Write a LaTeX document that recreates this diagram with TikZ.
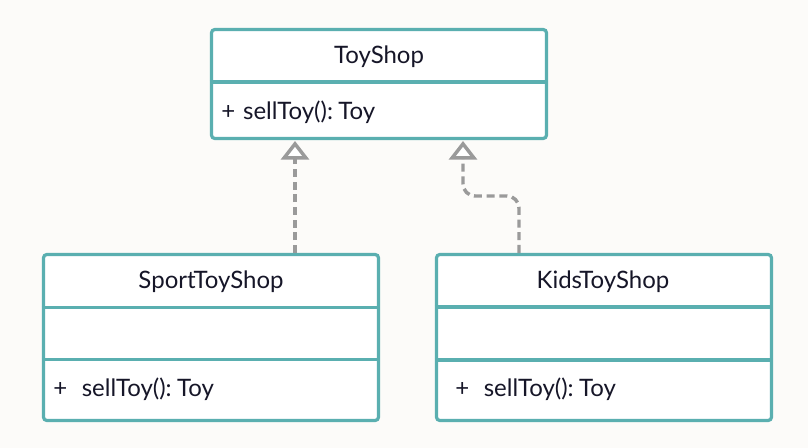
\documentclass[tikz,border=0pt]{standalone}
\usepackage{fontspec}
\setmainfont{Lato}
\usetikzlibrary{arrows.meta}
\definecolor{bg}{HTML}{FCFBF9}
\definecolor{teal}{HTML}{5AAFB0}
\definecolor{ink}{HTML}{161628}
\definecolor{conn}{HTML}{9A9A9A}
\tikzset{
  classbox/.style={draw=teal, line width=2.4pt, fill=white, rounded corners=2.5pt,
    minimum width=335*0.75pt, inner sep=0pt},
  divider/.style={draw=teal, line width=2.3pt},
  title/.style={text=ink, font=\fontsize{18}{21}\selectfont, inner sep=0pt},
  member/.style={text=ink, font=\fontsize{18}{21}\selectfont, inner sep=0pt, anchor=west},
  realize/.style={draw=conn, line width=2.6pt, dash pattern=on 6pt off 3.5pt,
    -{Triangle[open, length=14pt, width=21pt, line width=2.6pt, fill=white]}},
}
\begin{document}
\begin{tikzpicture}[x=0.75pt,y=-0.75pt]
\fill[bg] (0,0) rectangle (808,448);
\useasboundingbox (0,0) rectangle (808,448);
% ToyShop
\node[classbox, minimum height=109*0.75pt] (toy) at (379,84) {};
\draw[divider] (toy.west |- 0,82) -- (toy.east |- 0,82);
\node[title] (toyt) at (379,57) {ToyShop};
\node[member] (toym) at (221,112) {+\hspace{6pt}sellToy():\hspace{4pt}Toy};
% SportToyShop
\node[classbox, minimum height=166*0.75pt] (sport) at (211,337.5) {};
\draw[divider] (sport.west |- 0,307.5) -- (sport.east |- 0,307.5);
\draw[divider] (sport.west |- 0,359.5) -- (sport.east |- 0,359.5);
\node[title] (sportt) at (211,282) {SportToyShop};
\node[member] (sportm) at (53,389) {+\hspace{11pt}sellToy():\hspace{4pt}Toy};
% KidsToyShop
\node[classbox, minimum height=166*0.75pt] (kids) at (604,337.5) {};
\draw[divider] (kids.west |- 0,307) -- (kids.east |- 0,307);
\draw[divider] (kids.west |- 0,360) -- (kids.east |- 0,360);
\node[title] (kidst) at (603,282) {KidsToyShop};
\node[member] (kidsm) at (455,389) {+\hspace{11pt}sellToy():\hspace{4pt}Toy};
% connectors
\coordinate (t1) at (295,141);
\coordinate (t2) at (463,141);
\draw[realize] (sport.north -| t1) -- (t1);
\draw[realize, rounded corners=9pt] (kids.north -| 519,0) -- (519,196) -- (463,196) -- (t2);
\end{tikzpicture}
\end{document}
